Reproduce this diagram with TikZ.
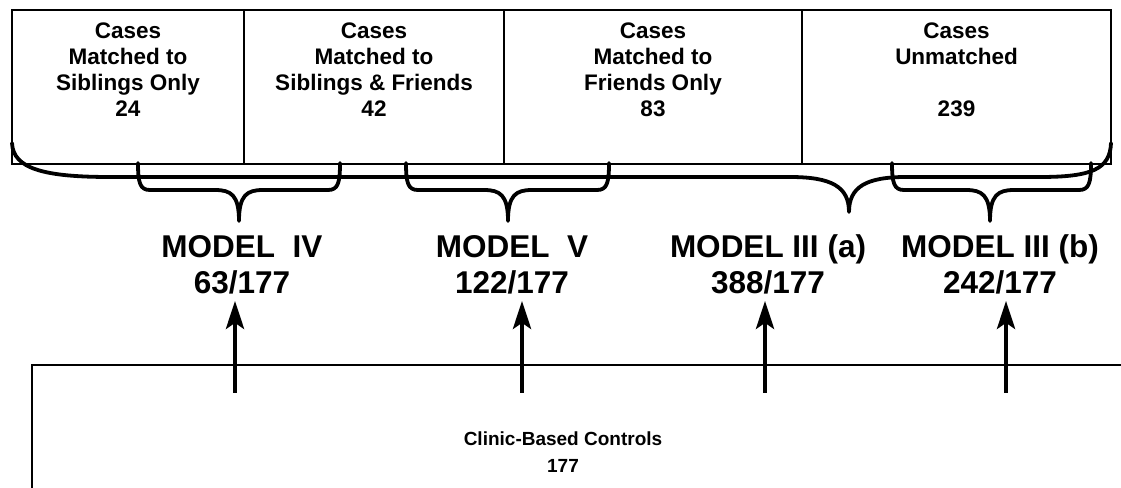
\documentclass[tikz,border=0pt]{standalone}
\usepackage{fontspec}
\setmainfont{Liberation Sans}
\usetikzlibrary{positioning,arrows.meta}
\tikzset{
    cell/.style={draw,line width=1.3pt,minimum height=154pt,inner sep=0pt,outer sep=0pt},
    celltext/.style={align=center,inner sep=0pt,font=\fontsize{22.5}{26}\selectfont\bfseries},
    model/.style={align=center,inner sep=0pt,anchor=north,font=\fontsize{31.5}{36}\selectfont\bfseries},
    brc/.style={line width=3.8pt,line join=round,line cap=round},
    up/.style={-{Stealth[length=28pt,width=18pt,inset=6pt]},line width=4.5pt},
}
% small brace: left x, tip x, right x
\newcommand{\capbrace}[3]{%
    \draw[brc] (#1,324) .. controls (#1,304) and (#1+2,297) .. (#1+12,297)
        -- (#2-24,297) .. controls (#2-8,297) and (#2,292) .. (#2,266)
        .. controls (#2,292) and (#2+8,297) .. (#2+24,297)
        -- (#3-12,297) .. controls (#3-2,297) and (#3,304) .. (#3,324);}

\begin{document}
\begin{tikzpicture}[x=1pt,y=1pt]
    \useasboundingbox (0,0) rectangle (1121,487);
    \clip (0,0) rectangle (1121,487);

    % case groups
    \node[cell,minimum width=232pt] (sib) at (128,400) {};
    \node[cell,minimum width=260pt,right=0pt of sib] (both) {};
    \node[cell,minimum width=298pt,right=0pt of both] (fri) {};
    \node[cell,minimum width=309pt,right=0pt of fri] (unm) {};

    \node[celltext,below=12.5pt of sib.north] (tsib) {Cases\\Matched to\\Siblings Only\\24};
    \node[celltext,below=12.5pt of both.north] (tboth) {Cases\\Matched to\\Siblings \& Friends\\42};
    \node[celltext,below=12.5pt of fri.north] (tfri) {Cases\\Matched to\\Friends Only\\83};
    \node[celltext,below=12.5pt of unm.north] (tunm) {Cases\\Unmatched\\~\\239};

    % braces
    \draw[brc] (sib.south west |- 0,344) .. controls (13,318) and (45,310) .. (110,310)
        -- (790,310) .. controls (832,310) and (849,300) .. (849,275)
        .. controls (849,300) and (866,310) .. (906,310)
        -- (1040,310) .. controls (1092,310) and (1110,318) .. (unm.south east |- 0,344);
    \capbrace{138}{239}{340}
    \capbrace{406}{508}{609}
    \capbrace{892}{990}{1091}

    % models
    \node[model] (m4) at (242,253) {MODEL\ \ IV\vphantom{(}\\63/177};
    \node[model] (m5) at (512,253) {MODEL\ \ V\vphantom{(}\\122/177};
    \node[model] (m3a) at (768,253) {MODEL III (a)\\388/177};
    \node[model] (m3b) at (1000,253) {MODEL III (b)\\242/177};

    % controls
    \draw[line width=1.5pt] (1130,122) -| (32,-10);
    \node[inner sep=0pt,align=center,font=\fontsize{19}{27}\selectfont\bfseries] (clinic) at (563,35) {Clinic-Based Controls\\177};

    \coordinate (f4) at (235,94);
    \coordinate (f5) at (522,94);
    \coordinate (f3a) at (765,94);
    \coordinate (f3b) at (1006,94);
    \draw[up] (f4) -- ([yshift=-7pt]f4 |- m4.south);
    \draw[up] (f5) -- ([yshift=-7pt]f5 |- m5.south);
    \draw[up] (f3a) -- ([yshift=-7pt]f3a |- m3a.south);
    \draw[up] (f3b) -- ([yshift=-7pt]f3b |- m3b.south);
\end{tikzpicture}
\end{document}
